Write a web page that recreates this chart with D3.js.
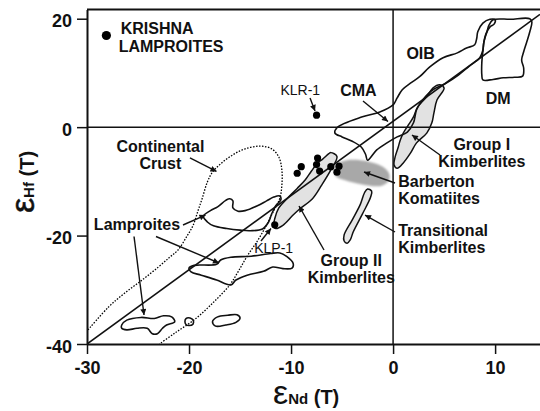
<!DOCTYPE html>
<html>
<head>
<meta charset="utf-8">
<script src="https://cdn.jsdelivr.net/npm/d3@7"></script>
<style>
  html, body { margin: 0; padding: 0; background: #fff; }
  svg { display: block; font-family: "Liberation Sans", Arial, Helvetica, sans-serif; }
</style>
</head>
<body>
<svg id="chart" width="540" height="411"></svg>
<script>
// Axis ticks
const xTicks = [-30, -20, -10, 0, 10];
const yTicks = [20, 0, -20, -40];

// Krishna lamproite samples (εNd(T), εHf(T))
const krishnaSamples = [
  [-9.4, -8.5], [-9.0, -7.3], [-7.4, -5.7], [-7.5, -6.9],
  [-7.2, -8.1], [-6.1, -7.3], [-5.3, -7.2], [-5.5, -8.3]
];
const klr1 = [-7.5, 2.2];
const klp1 = [-11.6, -18.0];
const legendDot = [-28.1, 16.9];

// Terrestrial (mantle) array
const arrayLine = [[-30, -40], [14.4, 20.8]];

// Reference fields
const oibField = [
  [10.0, 19.8], [9.5, 19.9], [8.8, 19.2], [8.3, 17.6], [8.2, 16.4], [8.0, 15.2],
  [7.2, 14.6], [6.3, 13.7], [4.9, 12.8], [3.6, 11.1], [2.6, 9.3], [1.7, 8.1],
  [0.9, 6.9], [0.4, 5.4], [0.0, 4.1], [-1.3, 2.8], [-3.0, 1.9], [-5.5, -0.1],
  [-5.7, -1.1], [-5.0, -1.8], [-4.0, -2.6], [-3.1, -3.7], [-2.7, -5.0], [-2.5, -6.1],
  [-1.6, -4.2], [-0.6, -2.9], [0.4, -1.8], [1.4, -0.9], [2.0, 0.8], [2.3, 3.2],
  [2.9, 5.0], [3.9, 6.9], [5.1, 8.0], [6.4, 9.6], [7.5, 11.3], [8.5, 12.8],
  [8.8, 14.2], [8.9, 15.7], [9.1, 17.2], [9.5, 18.5], [9.9, 19.0]
];
const dmField = [
  [9.8, 19.8], [11.5, 19.9], [13.4, 20.0], [13.6, 19.4], [13.4, 17.6], [13.1, 15.7],
  [12.8, 13.9], [12.6, 12.4], [12.8, 10.9], [12.7, 9.4], [11.9, 9.2], [10.8, 9.1],
  [9.8, 8.8], [8.8, 8.7], [8.7, 9.6], [8.7, 12.0], [8.8, 13.9], [8.9, 15.7],
  [9.2, 17.6], [9.4, 18.8]
];
const groupIField = [
  [4.6, 7.8], [5.0, 7.2], [4.3, 5.0], [4.0, 2.6], [3.8, 0.8], [3.3, -1.1],
  [2.3, -2.9], [1.7, -4.8], [1.0, -6.6], [0.4, -7.6], [0.1, -7.0], [0.2, -5.5],
  [0.5, -3.7], [0.7, -2.4], [1.0, -1.1], [1.5, 0.4], [2.0, 1.9], [2.4, 3.7],
  [3.3, 5.6], [3.9, 7.2]
];
const barbertonField = [
  [-5.8, -7.9], [-5.4, -6.7], [-4.5, -6.1], [-3.2, -6.1], [-2.1, -6.5], [-1.0, -7.3],
  [-0.4, -8.5], [-0.4, -9.8], [-1.1, -10.8], [-2.3, -10.8], [-3.5, -10.4], [-4.7, -9.8],
  [-5.6, -9.1]
];
const transitionalField = [
  [-2.5, -11.4], [-2.1, -11.8], [-2.2, -12.9], [-3.0, -16.0], [-3.9, -19.3], [-4.2, -20.8],
  [-4.5, -21.4], [-4.8, -21.0], [-4.8, -19.9], [-4.0, -17.1], [-3.2, -14.2], [-2.8, -12.1]
];
const groupIIField = [
  [-6.1, -4.7], [-5.5, -5.4], [-6.1, -7.9], [-7.0, -10.7], [-7.9, -13.2], [-9.1, -15.0],
  [-9.8, -16.2], [-10.8, -18.1], [-11.5, -18.7], [-11.7, -18.4], [-11.6, -16.9], [-11.2, -14.9],
  [-10.4, -13.2], [-9.4, -11.3], [-8.6, -9.7], [-8.0, -8.1], [-7.4, -6.6], [-6.9, -5.9],
  [-6.3, -4.9]
];
const crustOutline = [
  [-29.9, -37.4], [-27.9, -33.2], [-26.3, -30.6], [-24.6, -28.2], [-23.0, -25.8], [-21.9, -24.0],
  [-21.1, -22.7], [-20.2, -20.1], [-19.6, -18.1], [-19.1, -15.3], [-18.7, -13.1], [-18.2, -10.1],
  [-17.7, -8.3], [-16.8, -6.6], [-15.7, -5.1], [-14.5, -4.0], [-13.0, -3.5], [-11.9, -4.0],
  [-11.2, -5.5], [-10.9, -7.9], [-10.9, -10.7], [-11.1, -13.1], [-11.8, -15.8], [-12.5, -18.4],
  [-13.3, -21.0], [-14.3, -23.8], [-15.2, -26.7], [-16.0, -29.1], [-17.6, -32.3], [-19.4, -35.4],
  [-21.4, -38.0], [-22.9, -40.0]
];
const lamproiteUpper = [
  [-18.6, -16.4], [-17.9, -15.4], [-17.2, -14.7], [-16.4, -13.5], [-16.0, -13.2], [-15.7, -13.6],
  [-15.7, -14.9], [-15.2, -15.5], [-14.5, -15.4], [-13.3, -14.5], [-12.4, -13.6], [-11.7, -12.9],
  [-11.1, -12.7], [-11.0, -13.4], [-11.5, -14.5], [-11.9, -16.0], [-12.2, -17.5], [-12.8, -18.8],
  [-14.0, -19.1], [-15.0, -19.0], [-16.3, -18.7], [-17.6, -18.2], [-18.2, -17.5]
];
const lamproiteMiddle = [
  [-20.0, -26.0], [-19.5, -25.5], [-17.3, -25.3], [-16.9, -24.5], [-15.9, -24.0], [-13.9, -23.8],
  [-12.0, -23.3], [-11.1, -23.2], [-10.4, -23.9], [-9.8, -25.1], [-9.9, -26.0], [-10.8, -26.1],
  [-11.8, -25.8], [-12.7, -26.6], [-14.3, -27.3], [-15.4, -28.2], [-15.9, -29.1], [-17.3, -28.2],
  [-18.8, -27.3], [-19.8, -26.7]
];
const lamproiteLower = [
  [-26.6, -36.5], [-26.1, -35.6], [-24.7, -35.1], [-23.4, -35.3], [-22.5, -34.8], [-21.7, -35.0],
  [-21.4, -35.9], [-22.2, -36.5], [-22.6, -37.1], [-23.1, -38.1], [-23.6, -38.1], [-24.1, -37.1],
  [-25.1, -37.1], [-26.1, -37.4], [-26.6, -37.1]
];
const lamproiteSmall = [
  [-20.4, -35.9], [-20.3, -35.3], [-19.9, -35.2], [-19.6, -35.6], [-19.6, -36.3], [-20.0, -36.6],
  [-20.3, -36.4]
];
const lamproiteOval = [
  [-17.7, -35.9], [-17.2, -35.0], [-16.2, -34.7], [-15.3, -34.6], [-15.0, -35.2], [-15.4, -36.0],
  [-16.4, -36.5], [-17.4, -36.7]
];

// Field labels: lines, anchor point, alignment, style
const labels = [
  { lines: ["KRISHNA"], at: [-26.7, 17.2], anchor: "start" },
  { lines: ["LAMPROITES"], at: [-26.9, 13.8], anchor: "start" },
  { lines: ["KLR-1"], at: [-9.1, 5.9], anchor: "middle", light: true },
  { lines: ["CMA"], at: [-3.4, 5.8], anchor: "middle" },
  { lines: ["OIB"], at: [2.7, 12.5], anchor: "middle" },
  { lines: ["DM"], at: [10.3, 4.2], anchor: "middle" },
  { lines: ["Group I", "Kimberlites"], at: [8.7, -4.3], anchor: "middle" },
  { lines: ["Barberton", "Komatiites"], at: [0.5, -11.0], anchor: "start" },
  { lines: ["Transitional", "Kimberlites"], at: [0.5, -20.1], anchor: "start" },
  { lines: ["Group II", "Kimberlites"], at: [-4.1, -25.7], anchor: "middle" },
  { lines: ["KLP-1"], at: [-11.7, -23.3], anchor: "middle", light: true },
  { lines: ["Continental", "Crust"], at: [-22.8, -4.5], anchor: "middle" },
  { lines: ["Lamproites"], at: [-25.1, -18.9], anchor: "middle" }
];

// Leader arrows: [from, to]
const arrows = [
  [[-8.14, 5.38], [-7.65, 2.98]],
  [[-2.95, 4.82], [-0.50, 1.04]],
  [[-19.91, -5.69], [-17.31, -8.18]],
  [[-20.59, -18.05], [-18.39, -16.21]],
  [[-23.24, -20.17], [-17.06, -25.06]],
  [[-25.39, -20.17], [-24.41, -34.65]],
  [[-12.95, -21.00], [-11.97, -18.70]],
  [[-6.77, -22.66], [-9.22, -14.55]],
  [[0.19, -10.30], [-2.85, -8.27]],
  [[0.19, -19.34], [-2.75, -16.21]],
  [[4.60, -5.14], [1.85, -1.45]]
];

const svg = d3.select("#chart");
const x = d3.scaleLinear().domain([-30, 14.4]).range([87, 540]);
const y = d3.scaleLinear().domain([-40, 21.7]).range([344, 9.5]);

const defs = svg.append("defs");
defs.append("clipPath").attr("id", "plot-clip")
  .append("rect")
  .attr("x", x(-30)).attr("y", y(21.7))
  .attr("width", x(14.4) - x(-30)).attr("height", y(-40) - y(21.7));
defs.append("marker")
  .attr("id", "head")
  .attr("viewBox", "0 0 10 10")
  .attr("refX", 10).attr("refY", 5)
  .attr("markerWidth", 8).attr("markerHeight", 6)
  .attr("markerUnits", "userSpaceOnUse")
  .attr("orient", "auto")
  .append("path").attr("d", "M0,0 L10,5 L0,10 Z").attr("fill", "#111");
defs.append("filter").attr("id", "soft")
  .attr("x", "-20%").attr("y", "-30%").attr("width", "140%").attr("height", "160%")
  .append("feGaussianBlur").attr("stdDeviation", 1.1);

const plot = svg.append("g").attr("clip-path", "url(#plot-clip)");

const closed = d3.line().x(d => x(d[0])).y(d => y(d[1]))
  .curve(d3.curveCatmullRomClosed.alpha(0.5));
const open = d3.line().x(d => x(d[0])).y(d => y(d[1]))
  .curve(d3.curveCatmullRom.alpha(0.5));
const straight = d3.line().x(d => x(d[0])).y(d => y(d[1]));

// Continental crust envelope (dotted)
plot.append("path").attr("d", open(crustOutline))
  .attr("fill", "none").attr("stroke", "#000")
  .attr("stroke-width", 1.3).attr("stroke-dasharray", "1.5,1.5");

// Shaded fields
plot.append("path").attr("d", closed(barbertonField))
  .attr("fill", "#a8a8a8").attr("filter", "url(#soft)");

[[groupIIField, "#e2e2e2"], [groupIField, "#e2e2e2"], [transitionalField, "#e6e6e6"]]
  .forEach(([pts, fill]) => {
    plot.append("path").attr("d", closed(pts))
      .attr("fill", fill).attr("stroke", "#111").attr("stroke-width", 1.5);
  });

// Outlined fields
[oibField, dmField, lamproiteUpper, lamproiteMiddle, lamproiteLower, lamproiteSmall, lamproiteOval]
  .forEach(pts => {
    plot.append("path").attr("d", closed(pts))
      .attr("fill", "none").attr("stroke", "#111").attr("stroke-width", 1.6);
  });

// Reference lines: εNd = 0, εHf = 0 and the terrestrial array
plot.append("line")
  .attr("x1", x(0)).attr("x2", x(0)).attr("y1", y(21.7)).attr("y2", y(-40))
  .attr("stroke", "#111").attr("stroke-width", 1.5);
plot.append("line")
  .attr("x1", x(-30)).attr("x2", x(14.4)).attr("y1", y(0)).attr("y2", y(0))
  .attr("stroke", "#111").attr("stroke-width", 1.5);
plot.append("path").attr("d", straight(arrayLine))
  .attr("stroke", "#111").attr("stroke-width", 1.6).attr("fill", "none");

// Samples
plot.selectAll("circle.sample")
  .data(krishnaSamples.concat([klr1, klp1]))
  .join("circle").attr("class", "sample")
  .attr("cx", d => x(d[0])).attr("cy", d => y(d[1])).attr("r", 3.6)
  .attr("fill", "#000");
plot.append("circle")
  .attr("cx", x(legendDot[0])).attr("cy", y(legendDot[1])).attr("r", 4.6)
  .attr("fill", "#000");

// Leader arrows
svg.append("g").selectAll("path")
  .data(arrows).join("path")
  .attr("d", d => straight(d))
  .attr("stroke", "#111").attr("stroke-width", 1.4).attr("fill", "none")
  .attr("marker-end", "url(#head)");

// Labels
const lab = svg.append("g").attr("fill", "#111");
labels.forEach(l => {
  const t = lab.append("text")
    .attr("x", x(l.at[0])).attr("y", y(l.at[1]))
    .attr("text-anchor", l.anchor)
    .attr("font-size", l.light ? 14 : 16)
    .attr("font-weight", l.light ? "normal" : "bold");
  l.lines.forEach((s, i) => {
    t.append("tspan").attr("x", x(l.at[0])).attr("dy", i === 0 ? 0 : 17).text(s);
  });
});

// Axes (plain hyphen for negative tick labels)
const fmt = d => String(d);
const axisY = svg.append("g").attr("transform", `translate(${x(-30)},0)`)
  .call(d3.axisLeft(y).tickValues(yTicks).tickFormat(fmt)
    .tickSize(10).tickSizeOuter(0).tickPadding(5));
const axisX = svg.append("g").attr("transform", `translate(0,${y(-40)})`)
  .call(d3.axisBottom(x).tickValues(xTicks).tickFormat(fmt)
    .tickSize(10).tickSizeOuter(0).tickPadding(7));
[axisX, axisY].forEach(a => {
  a.select(".domain").attr("stroke", "#111").attr("stroke-width", 2);
  a.selectAll(".tick line").attr("stroke", "#111").attr("stroke-width", 1.5);
  a.selectAll(".tick text")
    .attr("font-family", "Liberation Sans, Arial, sans-serif")
    .attr("font-size", 18).attr("font-weight", "bold").attr("fill", "#111");
});
axisY.selectAll(".tick text").attr("dy", "0.45em");

// Top border
svg.append("line")
  .attr("x1", x(-30)).attr("x2", x(14.4)).attr("y1", y(21.7)).attr("y2", y(21.7))
  .attr("stroke", "#111").attr("stroke-width", 2);

// Axis titles
const xt = svg.append("text").attr("x", 273).attr("y", 404).attr("fill", "#111");
xt.append("tspan").attr("font-size", 34).text("ε");
xt.append("tspan").attr("font-size", 15).attr("font-weight", "bold").text("Nd");
xt.append("tspan").attr("font-size", 20).attr("font-weight", "bold").text(" (T)");

const yt = svg.append("text").attr("transform", "translate(34,182) rotate(-90)")
  .attr("text-anchor", "middle").attr("fill", "#111");
yt.append("tspan").attr("font-size", 34).attr("stroke", "#111").attr("stroke-width", 0.5).text("ε");
yt.append("tspan").attr("font-size", 15).attr("font-weight", "bold").text("Hf");
yt.append("tspan").attr("font-size", 20).attr("font-weight", "bold").text(" (T)");
</script>
</body>
</html>
